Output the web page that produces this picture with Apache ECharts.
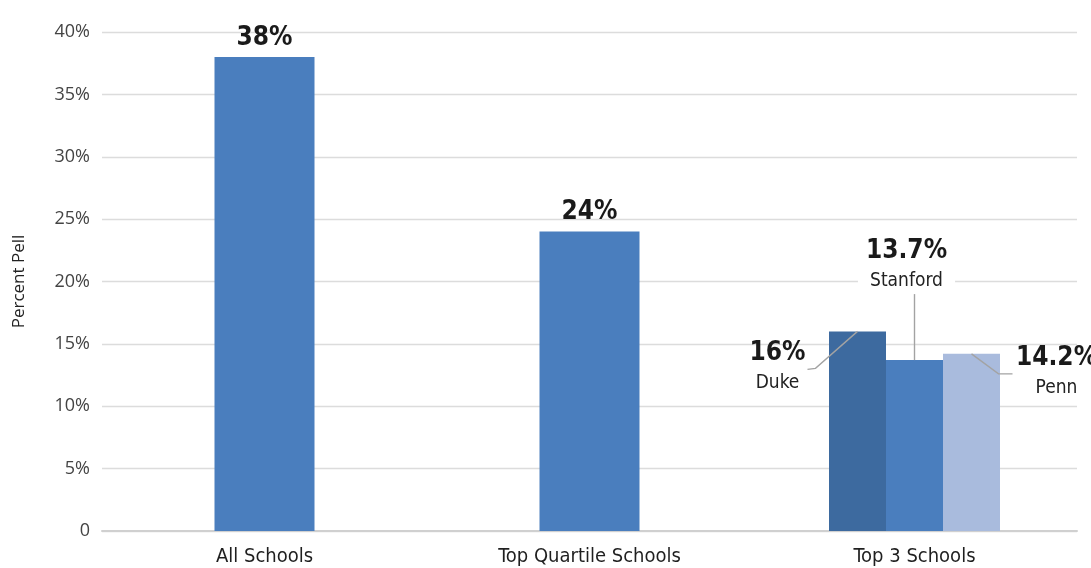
<!DOCTYPE html>
<html><head><meta charset="utf-8">
<script src="https://cdn.jsdelivr.net/npm/echarts@6/dist/echarts.min.js"></script>
<style>html,body{margin:0;padding:0;background:#fff}#c{width:1091px;height:568px}</style>
</head><body><div id="c"></div>
<script>
const categories = ['All Schools', 'Top Quartile Schools', 'Top 3 Schools'];
const overallValues = [38, 24, null];
const schoolNames = ['Duke', 'Stanford', 'Penn'];
const schoolValues = [16, 13.7, 14.2];
const schoolLabels = ['16%', '13.7%', '14.2%'];
const overallLabels = ['38%', '24%', ''];
const yTicks = [0, 5, 10, 15, 20, 25, 30, 35, 40];
const yTickLabels = ['0', '5%', '10%', '15%', '20%', '25%', '30%', '35%', '40%'];

const numFont = '"DejaVu Sans Condensed", "Liberation Sans Narrow", sans-serif';
const schoolColors = ['#3d6a9f', '#4a7ebe', '#a9bbdd'];
const SCHOOL_BAR_W = 57;
const schoolLayout = [
  {dx: -80, dy: 69},
  {dx: -8, dy: -60},
  {dx: 85, dy: 51}
];
// leader line shapes, pixel offsets from the top-centre of each school bar
const leaderShapes = [
  [[0, 0], [-42, 37], [-50, 38]],
  [[0, 0], [0, -66]],
  [[0, 0], [27, 20], [41, 20]]
];

const chart = echarts.init(document.getElementById('c'));
const schoolSeries = schoolNames.map((n, i) => ({
  name: n,
  type: 'bar',
  xAxisIndex: 1,
  barWidth: SCHOOL_BAR_W,
  barGap: '0%',
  data: [null, null, schoolValues[i]],
  itemStyle: {color: schoolColors[i]},
  z: 3,
  label: {
    show: true,
    position: 'top',
    distance: 4,
    formatter: '{v|' + schoolLabels[i] + '}\n{n|' + n + '}',
    backgroundColor: i === 1 ? '#fff' : 'transparent',
    padding: i === 1 ? [0, 8, 2, 8] : 0,
    rich: {
      v: {fontFamily: numFont, fontWeight: 'bold', fontSize: 26, color: '#1a1a1a', lineHeight: 34, align: 'center'},
      n: {fontFamily: numFont, fontSize: 19, color: '#222', lineHeight: 26, align: 'center'}
    }
  },
  labelLayout: schoolLayout[i]
}));

const leaderSeries = {
  type: 'custom',
  xAxisIndex: 1,
  yAxisIndex: 0,
  z: 5,
  silent: true,
  encode: {x: 0, y: 1},
  data: schoolValues.map((v, i) => [2, v, i]),
  renderItem: (params, api) => {
    const idx = api.value(2);
    const p = api.coord([api.value(0), api.value(1)]);
    const x = p[0] + (idx - 1) * SCHOOL_BAR_W;
    const pts = leaderShapes[idx].map(o => [x + o[0], p[1] + o[1]]);
    return {type: 'polyline', shape: {points: pts},
      style: {stroke: '#a3a3a3', lineWidth: 1.4, fill: null}};
  }
};

chart.setOption({
  animation: false,
  grid: {left: 102, right: 14, top: 32, bottom: 37},
  xAxis: [
    {type: 'category', data: categories,
     axisLine: {show: true, lineStyle: {color: '#d0d0d0', width: 2}},
     axisTick: {show: false},
     axisLabel: {fontFamily: numFont, fontSize: 20, color: '#1f1f1f', margin: 16}},
    {type: 'category', data: categories, show: false}
  ],
  yAxis: {
    type: 'value', min: 0, max: 40, interval: 5,
    name: 'Percent Pell', nameLocation: 'middle', nameGap: 74, nameRotate: 90,
    nameTextStyle: {fontFamily: '"Open Sans", sans-serif', fontSize: 17, color: '#222'},
    axisLine: {show: false}, axisTick: {show: false},
    axisLabel: {fontFamily: '"Open Sans", sans-serif', fontSize: 18, color: '#444', margin: 12,
      formatter: v => yTickLabels[yTicks.indexOf(v)]},
    splitLine: {lineStyle: {color: '#dcdcdc', width: 1.3}}
  },
  series: [
    {name: 'Overall', type: 'bar', xAxisIndex: 0, barWidth: 100, data: overallValues,
     itemStyle: {color: '#4a7ebe'},
     label: {show: true, position: 'top', distance: 6,
       formatter: p => overallLabels[p.dataIndex],
       fontFamily: numFont, fontWeight: 'bold', fontSize: 26, color: '#1a1a1a'}}
  ].concat(schoolSeries, [leaderSeries])
});
</script></body></html>
